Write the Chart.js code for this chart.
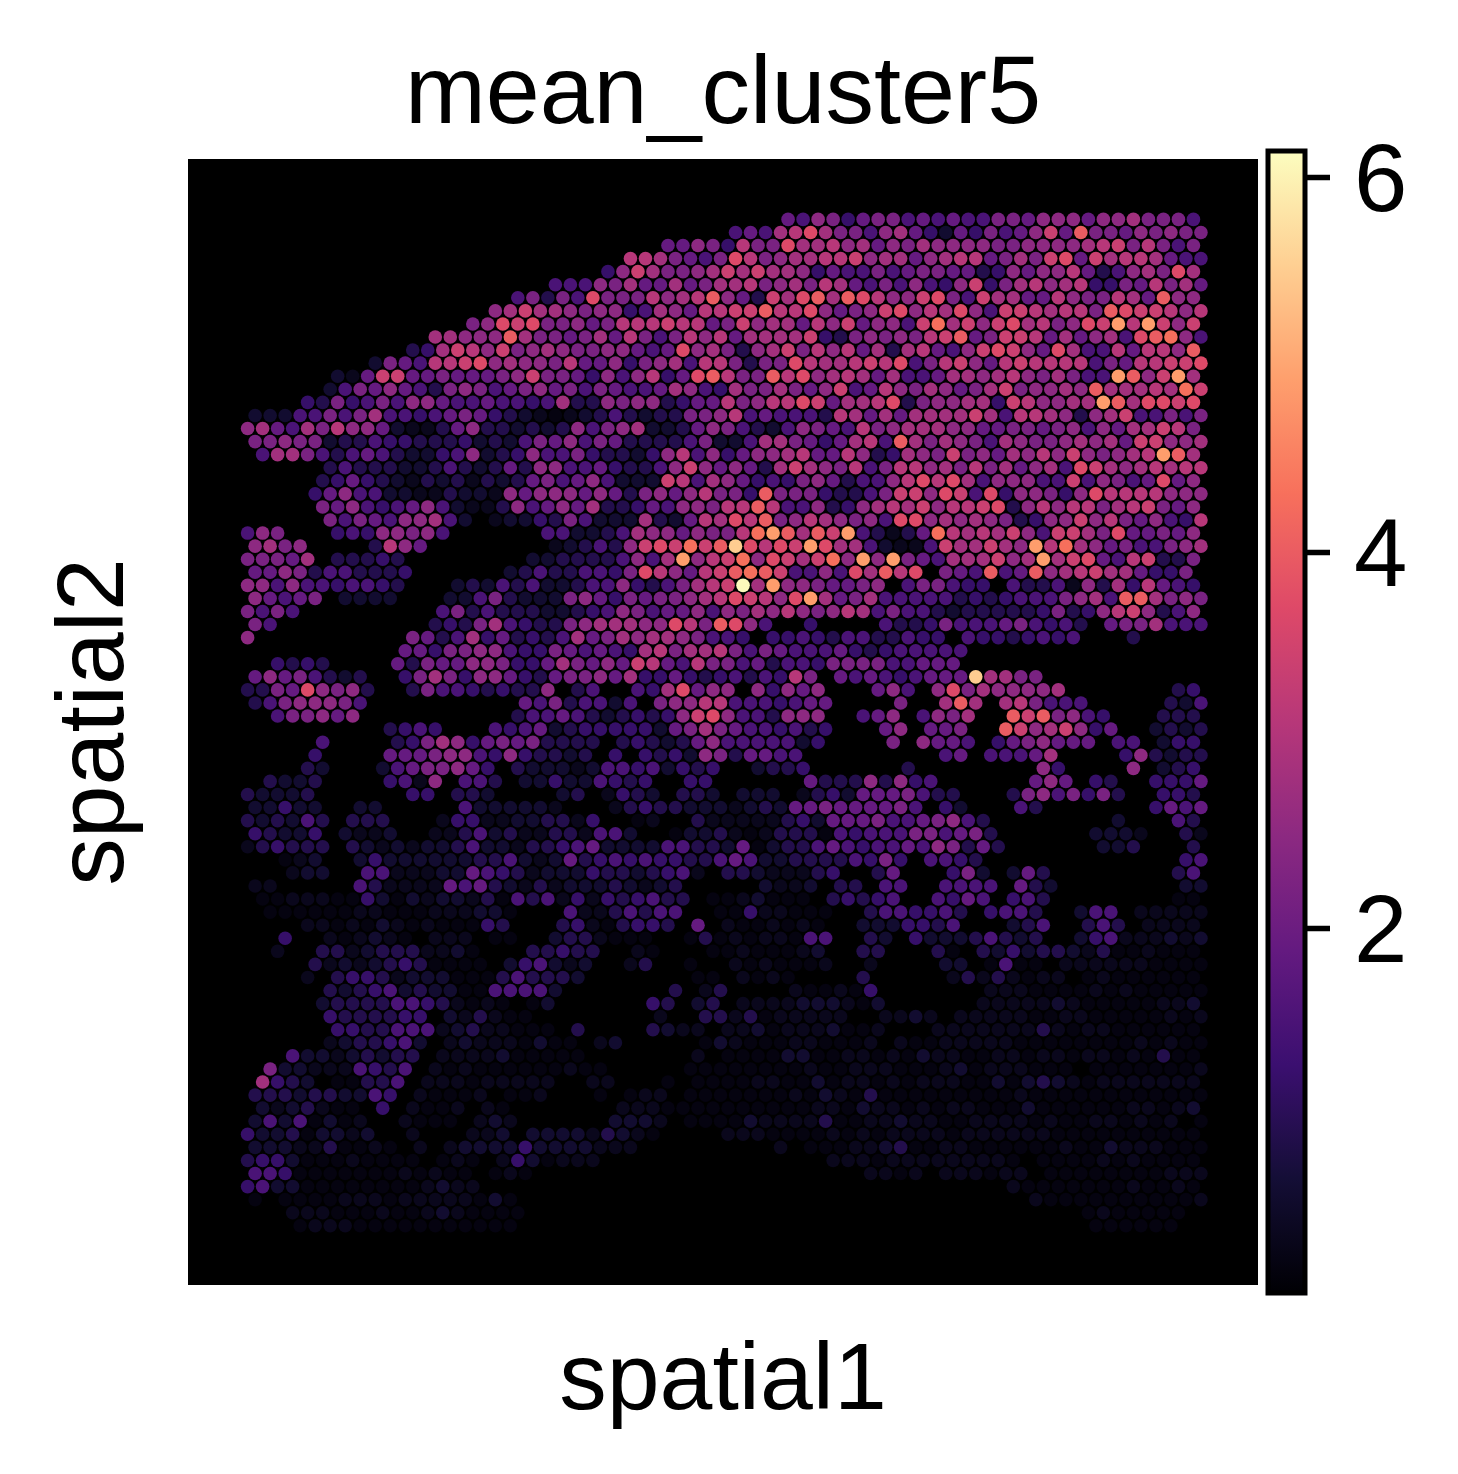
<!DOCTYPE html>
<html>
<head>
<meta charset="utf-8">
<script src="https://cdn.jsdelivr.net/npm/chart.js@4"></script>
<style>
  html, body { margin: 0; padding: 0; background: #fff; }
  #wrap { position: relative; width: 1458px; height: 1474px; }
  canvas { position: absolute; left: 0; top: 0; }
</style>
</head>
<body>
<div id="wrap">
  <canvas id="spots" width="1458" height="1474"></canvas>
  <canvas id="bar" width="1458" height="1474"></canvas>
</div>
<script>
const titleText = "mean_cluster5";
const xLabel = "spatial1";
const yLabel = "spatial2";
const barTicks = [2, 4, 6];
const vMin = 0.06;
const vMax = 6.14;

// value read for each letter used in rowLevels
const levelValues = { a: 0.2, b: 0.35, c: 0.6, d: 0.9, e: 1.2, f: 1.5, g: 1.9, h: 2.2, i: 2.5,
  j: 2.8, k: 3.1, l: 3.4, m: 3.7, n: 4.0, o: 4.3, p: 4.9, q: 5.5, r: 6.1 };

// first half-column of each row of the hex grid
const rowStarts = [72, 65, 56, 51, 48, 41, 36, 33, 30, 25, 22, 17, 12, 11, 8, 1, 0, 1, 2, 11,
  10, 9, 10, 11, 0, 1, 0, 1, 0, 1, 0, 1, 0, 21, 4, 1, 0, 1, 4, 19,
  10, 9, 8, 3, 0, 1, 0, 1, 0, 5, 6, 1, 2, 3, 8, 5, 4, 9, 8, 11,
  10, 11, 12, 11, 6, 3, 2, 1, 2, 1, 0, 1, 0, 1, 0, 1, 6, 7];

// one letter per spot, a space is a hole in the tissue
const rowLevels = [
  "gfiheghhfgfgffhhgiiigiijhhhf",
  "fgfjkmjhhfijgecgehfgilgnhhgihihh",
  "ggihekhhmjjkijgihjiiiihhiiiijklhkhfh",
  "kkjhgfhmkhijjkklijjgijkkghjhlmgljkkjgff",
  "eiljhhijljljjiegffhfghhggdeigiikgdfijhmj",
  "fffihjggjghjjkhijhkjgfhfifeilehjkijkeehgkhjg",
  "fhdhfmhhhkijknigdljmnjnmkiilmhfljjggkihhkjgnii",
  "ijljjihiiefjigkkllnkkmighilmikjmifllkjkkhnmllkik",
  "himlmhhighkkklkkghlijjgkilgiiflojlilmjkhimlpkplil",
  "jjiiinjhhghjgkhfhkikgjjjjledhihihklnghllkgjgijfmnoif",
  "dejlkilhijihhiigfgmijhdijlhkikgjdjkgfilmligmjffkgkkin",
  "chgfkklmijiihkggiehijfkkhdhhmkjjklkmfhkligklkkkkfhgkkllm",
  "cbgllgghggghilhhgeifikegmnkhhnkmijkjgjffgjjijkihjhffpnilpj",
  "cfhgigfdhihfghighfhgffgjifejhhjhgilfgkihjighjlhiijinjjjkjol",
  "edhefhfiigffgffefjddihiideggkhikkmlgjjkmdhiijjelkiijjpnjmmlm",
  "cccffhfhjffefghgedcbabcdfdcddhhikfgfffdkjgjgjjjjljfkkjidijlffhfh",
  "ijgfjhkiigcbbdgiddcdcdifhijccdgihfdcfihgfkhijjjiigghhghifigjjlkh",
  "hhihhcddfeedddecdcfhgifhgddddfhccfjjhgegjkfnjhjihfjihhijijglliij",
  "fjjhfdfgfdccefi" + "cdeiffheddceikfi" + "egiijkggkidejihlhigjikilihijkpnj",
  "dfdddccdfdcdgdiiffgeddfiligigdjljihkfhkkijhkhjgijfmljijkjkk",
  "degedcbdcdbdcdghfgifccclkfjigefehigdffikmkmjfiiifflfihfgmgi",
  "egiffccbbdccbigiiigigdhigikhhenhhheddfhllimlfmeiiheimkkkkiii",
  "hgifefgifcbbdifgigjddegfiihkknkffideijkjlikklmdikikkhjklhgi",
  "hfhgfiijfc bccedhfcccjdcgkjmknhikjihifmmijijihdeiilikhgifek",
  "fih   efeiihif      ffccdfjiigihhkopnjnlpfdbdgokjkjlifllj" + "hmgghgi",
  "ijhi    dkig        bcdfdilmlolnqmkmlpmjjfcbbfljjljipkojighffhij",
  "hhhgj ddded        ccddddfifjpikloimljloipiphgfjjjlijpjlmgfklddh",
  "ggihdffddde      cdfddffehmkigklnonlffifmjnkm hgfnfgnijkljjgeeh",
  "iififfeffed   cdcfdfccdffiedfhjklrjpiihgghi fhhfee fddfbidjekgfe",
  "igfgh cccc   ccfhdccchigehghhijkmlkimpjghjfffffdedefffhijfnnjhih",
  "hfhf         fhdfdddccdefihfggifihjikihikjfhffdcdddddehdeiklidfi",
  "hf          dedhjfeddhijjjiimkhnmif  e    fddehfffghfefd ghhjfff",
  "i          hgdfjegdedfjghjijjihffe eefedffddfee feedefef   d",
  "ggehhiifeehgfgfejkhjjkhfhgfffgedefffff",
  "eded    gdhggiiheegjhgiglkgfkhhfgdffehhhhffggg",
  "gighfdcd  ehjheiigedghhigjeegedefdfekh gfgfefgggqjjhh",
  "ddhgmihid  dhffededdi df  fejmgii ieigi   gif imhjiiiij       de",
  "dfhiiihf          gfhdffcf hiikkfffefgg    h  jnj jkhfff     dcf",
  "fhhigi          dffgfdcdedeilmiffdiii  fgi fihj  nlnhife   ddd",
  "defe   fefgcdeeeeecghjhgffefde   gi ggh  nlijlieg  cdcd",
  "f    dehjieghghdddd dedcdgifffffce    h iggf eghiggg ff cee",
  "e    ggghiifeieddcd e edecihdggff         fg fffgj    eidcdd",
  "dc   cfghhige dcccbcffefcede  cdde      d        ie    i cde",
  "dccd    efbi ffd cceccfede  ee      gdddidief      gig ed  eeeg",
  "dcccd      ee ddc    cd bedc ddc ccc bdecggghfdd   dhifhehd  eed",
  "ccecc  cc     fcccccb   bdeddcccbcdcgghgggghf ec   fd       egfg",
  "dcdcfd ddd   beebbccddbe  ab  dbbbbbdecggghffghifd        c   fd",
  "edcce cbbc  bbdfcdbbddbffc  accdbabdddafefffhhfghd      cccb  db",
  "bdeddd dcbcbccdfccbddefgccccffddcgacddfgfeffgfihdgd      ccd   d",
  "abc  ceccccccddfcbcgdefefeeddfgfccddddfehe ffed             ef",
  "bcc  ffbbbccgfedbccceddcdefb ddcbbbde  dg   ehc cgd        df",
  "bb     fdbbbbgfgdcbdbcccdcbcd     cbbc dd ff  ffff gdc        cc",
  "aabbbaaecacbccbdafdfbebedefdd aabcaaa dedef  fegf efd        aa",
  "aaaaaabbaaabbbcca   fbbdfdff  aaebbaaa  dffeefd effd  cff bbbbb",
  "bbabacbabaaaed   debadeed g baababa  ccceedf   cdf  dfd bbbb",
  "e  babcba bbb aa  cddbaaa  adababbaff  dc ecccdfdcd  cefbbbcbc",
  "b  ddbcdddbbca   ddedd  ba   aabaaabc  dd   da dcecddcbdaabaaa",
  "dbcbcdedaaaa cefcbc  bd  a  babaaab  b    cc afaa bbbbbbaaaa",
  "b deedbcccaaadfdddc       aa baba    d     bdbdbabb abaaaaaa",
  "dcdefcdccaaffffc       d bd    baabae       bbbaaaababaaaaa",
  "cddddffedbaba ac      ed cd bbbbcccbac      bbbbbcbaaaaabbc",
  "eddddee cbdbaa        b  ddbdabbbbb  bbcb bbbbbaabbaaaaabab",
  "eeddfffbcdbbaaa d    dcbb bbcabbbcaab   bbbbbbbdbabbaaaaaa",
  "bcddefc bcbbbacaa bc     acbaaabbaaab baabbbbbaaaaaaaababaa",
  "fccbcdcdd bbbbcaaaaa       b aaaaccaabbabacbbaabbabbabbabadaa",
  "hccbbbfedf babaaaaaabaa     aaaaaaaabaabbbaaabcabbbaaa aaaaaaab",
  "jedc aaddf bbbabbbbb  bb   a aaaabbaacabbababbbaacacdcbabbbbbbb",
  "dddcddccfe baaab aab   a abb aaaaaaabacbadaaaaaaaaabaaaaaaaaaaaa",
  "cbcdbaa e baab ba       bbbaaaaaaaaaabbacbbababbaaacaaaaaabbabc",
  "cfcfacab  baaa bcb      cccb aaaacbbbbdaabbcbbaabbbbabaabbabab a",
  "eccdaccbc  b   bbc ccccbdcba    bbbaaaabababbbbabbbbbbaaaaaaaaaa",
  "cccbbdaaba b bcccceccccbbb         b aaabbcdaabbaaaaaabaacbbbaaa",
  "deecaaabaaaa aba becabbb               bbbabbbbbbbba aaaababaaaa",
  "ffeaaaaaaababaa aba                      bbab bbbabb aaaaaaaabbb",
  "efccaaaaaaaabcbb                                   baaaaaaabaaba",
  "a aaaabbbabbbbbaca                                  baaaaaaaaaab",
  "bbbaaabaabcbaaaa                                     abaaaaa",
  "abbbaaaaaaaaaaa                                      aaaaaa"
];

// matplotlib magma sampled every 0.1
const magmaStops = ["#000004", "#140e36", "#3b0f70", "#641a80", "#8c2981", "#b73779",
                    "#de4968", "#f7705c", "#fe9f6d", "#fecf92", "#fcfdbf"];

function hexToRgb(h) {
  return [parseInt(h.slice(1, 3), 16), parseInt(h.slice(3, 5), 16), parseInt(h.slice(5, 7), 16)];
}

function magma(v) {
  const t = Math.min(1, Math.max(0, (v - vMin) / (vMax - vMin))) * (magmaStops.length - 1);
  const i = Math.min(magmaStops.length - 2, Math.floor(t));
  const a = hexToRgb(magmaStops[i]);
  const b = hexToRgb(magmaStops[i + 1]);
  const f = t - i;
  return "rgb(" + a.map((c, k) => Math.round(c + (b[k] - c) * f)).join(",") + ")";
}

const points = [];
rowLevels.forEach((row, r) => {
  [...row].forEach((ch, k) => {
    if (ch !== " ") points.push({ x: rowStarts[r] + 2 * k, y: r, v: levelValues[ch] });
  });
});

const fontFamily = "'Liberation Sans', Arial, sans-serif";

new Chart("spots", {
  type: "scatter",
  data: {
    datasets: [{
      data: points,
      pointRadius: 6.8,
      pointHoverRadius: 6.8,
      borderWidth: 0,
      backgroundColor: (ctx) => magma(ctx.raw ? ctx.raw.v : 0),
    }]
  },
  options: {
    responsive: false,
    animation: false,
    events: [],
    layout: { padding: { right: 200 } },
    plugins: {
      legend: { display: false },
      tooltip: { enabled: false },
      title: {
        display: true,
        text: titleText,
        color: "#000",
        fullSize: false,
        font: { family: fontFamily, size: 97, weight: "normal", lineHeight: 1 },
        padding: { top: 48, bottom: 14 },
      },
    },
    scales: {
      x: {
        type: "linear",
        min: -7.94,
        max: 134.6,
        afterFit: (s) => { s.height = 189; },
        ticks: { display: false },
        grid: { display: false },
        border: { display: false },
        title: { display: true, text: xLabel, color: "#000", padding: { top: 0, bottom: 44 },
                 font: { family: fontFamily, size: 95, lineHeight: 1 } },
      },
      y: {
        type: "linear",
        reverse: true,
        min: -4.62,
        max: 81.53,
        afterFit: (s) => { s.width = 188; },
        ticks: { display: false },
        grid: { display: false },
        border: { display: false },
        title: { display: true, text: yLabel, color: "#000", padding: { top: 49, bottom: 0 },
                 font: { family: fontFamily, size: 95, lineHeight: 1 } },
      },
    },
  },
  plugins: [{
    id: "blackPanel",
    beforeDatasetsDraw(chart) {
      const a = chart.chartArea;
      chart.ctx.fillStyle = "#000";
      chart.ctx.fillRect(a.left, a.top, a.width, a.height);
    },
  }],
});

new Chart("bar", {
  type: "bar",
  data: {
    labels: [""],
    datasets: [{
      data: [[vMin, vMax]],
      barPercentage: 1,
      categoryPercentage: 1,
      borderWidth: 0,
      backgroundColor: (ctx) => {
        const a = ctx.chart.chartArea;
        if (!a) return "#000";
        const g = ctx.chart.ctx.createLinearGradient(0, a.bottom, 0, a.top);
        magmaStops.forEach((c, i) => g.addColorStop(i / (magmaStops.length - 1), c));
        return g;
      },
    }]
  },
  options: {
    responsive: false,
    animation: false,
    events: [],
    layout: { padding: { left: 1268, top: 151, bottom: 181 } },
    plugins: { legend: { display: false }, tooltip: { enabled: false } },
    scales: {
      x: { display: false },
      y: {
        position: "right",
        min: vMin,
        max: vMax,
        afterFit: (s) => { s.width = 153; },
        afterBuildTicks: (s) => { s.ticks = barTicks.map((v) => ({ value: v })); },
        grid: { drawOnChartArea: false, tickLength: 25, tickWidth: 5.5, tickColor: "#000" },
        border: { display: false },
        ticks: { color: "#000", padding: 24, labelOffset: 7, font: { family: fontFamily, size: 96 } },
      },
    },
  },
  plugins: [{
    id: "barFrame",
    afterDraw(chart) {
      const a = chart.chartArea;
      chart.ctx.strokeStyle = "#000";
      chart.ctx.lineWidth = 5;
      chart.ctx.strokeRect(a.left, a.top, a.width, a.height);
    },
  }],
});
</script>
</body>
</html>
